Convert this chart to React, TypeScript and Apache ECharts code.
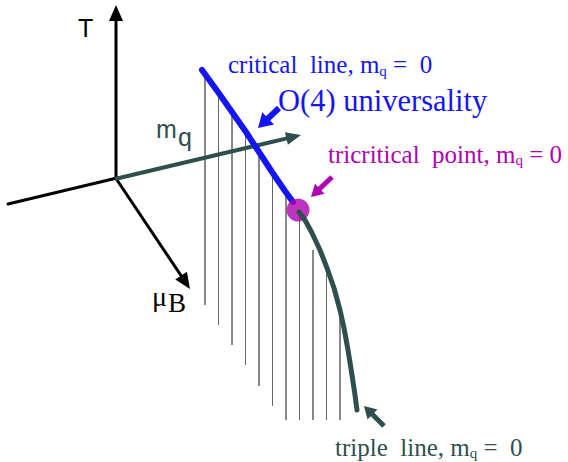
import React, { useEffect, useRef } from 'react';
import * as echarts from 'echarts';

// Diagram geometry in value space (x: 0..568, y: 0..462, y downward)
const tAxis = [[116, 180], [116, 5]];
const backAxis = [[117, 178], [8, 204]];
const muAxis = [[115, 177], [190, 289]];
const mqAxis = [[115, 179], [301, 135]];

const criticalLine = [[202, 70], [218, 92], [232, 112], [246, 132], [259, 152], [272, 172], [285, 191], [293, 202]];
const tripleLine = [[299, 212], [305, 220], [312, 233], [320, 250], [327, 268], [334, 288], [340, 310], [344, 328], [348, 350], [352, 375], [355, 395], [357, 410]];
const tricriticalPoint = [[298, 210]];

const hatchX = [205, 218.5, 232, 245.5, 259, 272.5, 286, 299.5, 313, 326.5, 340];
const hatchTop = [75, 95, 115, 135, 156, 176, 196, 213, 250, 270, 310];
const hatchBottom = [305, 325, 345, 365, 386, 406, 420, 420, 420, 420, 420];

const o4Arrow = [[279, 108], [258, 128]];
const tricriticalArrow = [[332, 177], [311, 197]];
const tripleArrow = [[384, 426], [364, 406]];

const BLUE = '#1414f5';
const PURPLE = '#b000b0';
const SLATE = '#2f4f4f';
const SERIF = 'Liberation Serif';
const SANS = 'Liberation Sans';

function arrowSeries(points: number[][], color: string, width: number, headLen: number, headWidth: number, z: number) {
  return {
    type: 'custom',
    coordinateSystem: 'cartesian2d',
    silent: true,
    z,
    data: [[points[0][0], points[0][1], points[1][0], points[1][1]]],
    encode: { x: [0, 2], y: [1, 3] },
    renderItem: (params: any, api: any) => {
      const a = api.coord([api.value(0), api.value(1)]);
      const b = api.coord([api.value(2), api.value(3)]);
      const dx = b[0] - a[0];
      const dy = b[1] - a[1];
      const len = Math.hypot(dx, dy);
      const ux = dx / len;
      const uy = dy / len;
      const bx = b[0] - ux * headLen;
      const by = b[1] - uy * headLen;
      const px = -uy;
      const py = ux;
      return {
        type: 'group',
        children: [
          {
            type: 'line',
            shape: { x1: a[0], y1: a[1], x2: b[0] - ux * headLen * 0.6, y2: b[1] - uy * headLen * 0.6 },
            style: { stroke: color, lineWidth: width },
          },
          {
            type: 'polygon',
            shape: {
              points: [
                [b[0], b[1]],
                [bx + (px * headWidth) / 2, by + (py * headWidth) / 2],
                [bx - (px * headWidth) / 2, by - (py * headWidth) / 2],
              ],
            },
            style: { fill: color },
          },
        ],
      };
    },
  };
}

function plainLine(points: number[][], color: string, width: number, z: number) {
  return {
    type: 'line',
    silent: true,
    z,
    data: points,
    symbol: 'none',
    lineStyle: { color, width, cap: 'round', join: 'round' },
  };
}

function plainText(x: number, y: number, text: string, color: string, font: string, size: number) {
  return {
    type: 'text',
    x,
    y,
    silent: true,
    z: 100,
    style: { text, fontFamily: font, fontSize: size, fill: color, align: 'left', verticalAlign: 'middle' },
  };
}

function richLabel(x: number, y: number, main: string, sub: string, tail: string, color: string, font: string, size: number, subSize: number, shift: number) {
  return {
    type: 'text',
    x,
    y,
    silent: true,
    z: 100,
    style: {
      text: `{a|${main}}{s|${sub}}{a|${tail}}`,
      fontFamily: font,
      fontSize: size,
      fill: color,
      verticalAlign: 'middle',
      align: 'left',
      rich: {
        a: { fontFamily: font, fontSize: size, fill: color, color },
        s: { fontFamily: font, fontSize: subSize, fill: color, color, padding: [shift * 2, 0, 0, 0] },
      },
    },
  };
}

export default function App() {
  const ref = useRef<HTMLDivElement>(null);
  useEffect(() => {
    if (!ref.current) return;
    const chart = echarts.init(ref.current, undefined, { renderer: 'svg' });
    const hatchData = hatchX.map((x, i) => [x, hatchTop[i], hatchBottom[i]]);
    chart.setOption({
      animation: false,
      backgroundColor: '#ffffff',
      grid: { left: 0, right: 0, top: 0, bottom: 0 },
      xAxis: { type: 'value', min: 0, max: 568, show: false },
      yAxis: { type: 'value', min: 0, max: 462, inverse: true, show: false },
      series: [
        {
          type: 'custom',
          coordinateSystem: 'cartesian2d',
          silent: true,
          z: 1,
          data: hatchData,
          encode: { x: 0, y: [1, 2] },
          renderItem: (params: any, api: any) => {
            const top = api.coord([api.value(0), api.value(1)]);
            const bot = api.coord([api.value(0), api.value(2)]);
            return {
              type: 'line',
              shape: { x1: top[0], y1: top[1], x2: bot[0], y2: bot[1] },
              style: { stroke: params.dataIndex % 2 === 0 ? '#111111' : '#666666', lineWidth: 1 },
            };
          },
        },
        plainLine(backAxis, '#000000', 3, 2),
        arrowSeries(tAxis, '#000000', 3, 16, 14, 2),
        arrowSeries(muAxis, '#000000', 3, 16, 14, 2),
        arrowSeries(mqAxis, SLATE, 4, 15, 13, 3),
        plainLine(criticalLine, BLUE, 6, 4),
        {
          type: 'scatter',
          silent: true,
          z: 5,
          data: tricriticalPoint,
          symbol: 'circle',
          symbolSize: 23,
          itemStyle: { color: PURPLE },
        },
        plainLine(tripleLine, SLATE, 5, 6),
        arrowSeries(o4Arrow, BLUE, 6, 14, 17, 7),
        arrowSeries(tricriticalArrow, PURPLE, 5, 12, 14, 7),
        arrowSeries(tripleArrow, SLATE, 5, 12, 14, 7),
      ],
      graphic: [
        plainText(78, 28, 'T', '#000000', SANS, 25),
        plainText(156, 129, 'm', SLATE, SANS, 25),
        plainText(178, 137, 'q', SLATE, SANS, 25),
        plainText(152, 296, 'μ', '#000000', SERIF, 28),
        plainText(168, 303, 'B', '#000000', SERIF, 27),
        richLabel(228, 64, 'critical  line, m', 'q', ' =  0', BLUE, SERIF, 25, 15, 7),
        plainText(278, 101, 'O(4) universality', BLUE, SERIF, 30.5),
        richLabel(328, 154, 'tricritical  point, m', 'q', ' = 0', PURPLE, SERIF, 25, 15, 6),
        richLabel(335, 447, 'triple  line, m', 'q', ' =  0', SLATE, SERIF, 25, 15, 6),
      ],
    });
    return () => chart.dispose();
  }, []);
  return <div ref={ref} style={{ position: 'fixed', left: 0, top: 0, width: 568, height: 462 }} />;
}
